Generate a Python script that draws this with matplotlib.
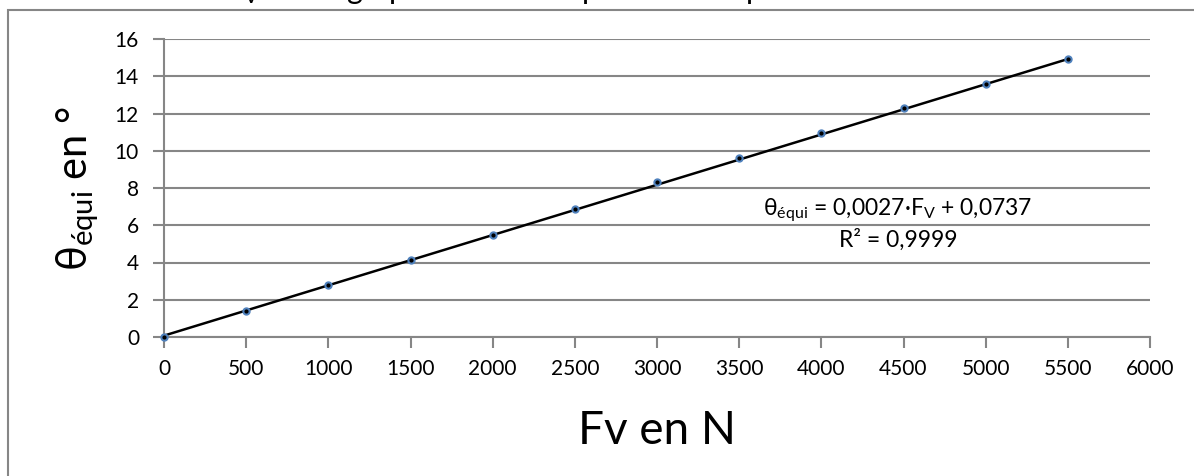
import numpy as np
import matplotlib
matplotlib.use("Agg")
import matplotlib.pyplot as plt
from matplotlib.patches import Rectangle

# data
fv = [0, 500, 1000, 1500, 2000, 2500, 3000, 3500, 4000, 4500, 5000, 5500]
theta = [0.0, 1.4, 2.8, 4.15, 5.5, 6.88, 8.3, 9.6, 10.95, 12.3, 13.6, 14.9]
slope = 0.0027
intercept = 0.0737
xticks = [0, 500, 1000, 1500, 2000, 2500, 3000, 3500, 4000, 4500, 5000, 5500, 6000]
yticks = [0, 2, 4, 6, 8, 10, 12, 14, 16]

plt.rcParams['font.family'] = ['Lato', 'DejaVu Sans']
plt.rcParams['mathtext.fontset'] = 'custom'
plt.rcParams['mathtext.rm'] = 'Lato'
plt.rcParams['mathtext.it'] = 'Lato'

grey = '#868686'

fig = plt.figure(figsize=(11.94, 4.76), dpi=100)
ax = fig.add_axes([164 / 1194, 1 - 337 / 476, (1150 - 164) / 1194, (337 - 39) / 476])

# outer chart frame (runs off the right and bottom)
fig.patches.append(Rectangle((8 / 1194, -0.1), 1.2, 1.1 - 10 / 476, transform=fig.transFigure,
                             fill=False, edgecolor=grey, lw=1.5, zorder=0))

# line of text above the chart, mostly cut off by the top edge
fig.text(0.02, 1 + 1 / 476, "en fonction de F$_\\mathrm{V}$ sur le graphe suivant la position d'équilibre stable",
         fontsize=22, va='baseline', ha='left', color='black')

ax.set_xlim(0, 6000)
ax.set_ylim(0, 16)
ax.set_xticks(xticks)
ax.set_yticks(yticks)
ax.grid(axis='y', color=grey, lw=1.5)
ax.set_axisbelow(True)
for s in ['top', 'right']:
    ax.spines[s].set_visible(False)
for s in ['left', 'bottom']:
    ax.spines[s].set_color(grey)
    ax.spines[s].set_linewidth(1.5)
ax.tick_params(axis='both', direction='out', length=8, width=1.5, color=grey, labelsize=15)
ax.tick_params(axis='x', pad=8)
ax.tick_params(axis='y', pad=10)

# trend line over the data range
xfit = np.array([fv[0], fv[-1]])
ax.plot(xfit, slope * xfit + intercept, color='black', lw=1.8, zorder=3)
ax.plot(fv, theta, 'o', ms=5, mfc='#4F81BD', mec='#4F81BD', zorder=4, clip_on=False)
ax.plot(fv, theta, 'o', ms=2, mfc='black', mec='black', zorder=5, clip_on=False)

ax.text(4467, 6.55, 'θ$_{\\mathrm{équi}}$ = 0,0027·F$_\\mathrm{V}$ + 0,0737', fontsize=16.5,
        ha='center', va='baseline')
ax.text(4467, 4.83, 'R² = 0,9999', fontsize=16.5, ha='center', va='baseline')

ax.set_xlabel('Fv en N', fontsize=33, labelpad=22)
ax.set_ylabel('θ$_{\\mathrm{équi}}$ en °', fontsize=30, labelpad=10)

fig.savefig('out.png', dpi=100)
